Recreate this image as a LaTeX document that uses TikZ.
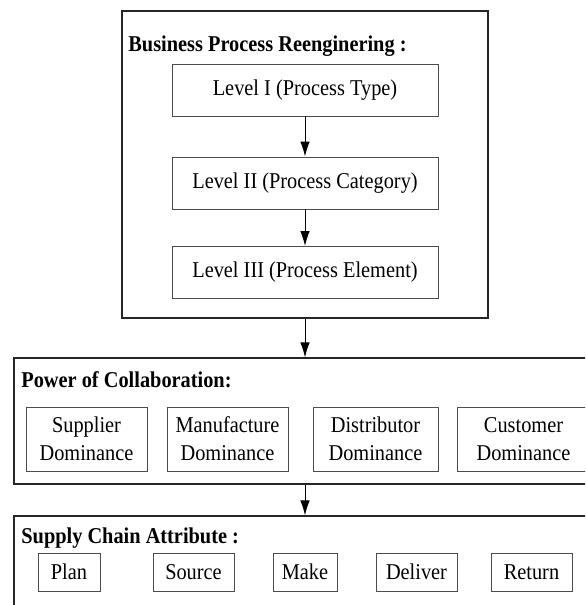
\documentclass[tikz,border=0pt]{standalone}
\usepackage{fontspec}
\setmainfont{Liberation Serif}[FakeStretch=0.9]
\usetikzlibrary{positioning,arrows.meta}

\tikzset{
  frame/.style={draw=black!85, line width=0.6pt, inner sep=0pt},
  box/.style={draw=black!70, line width=0.45pt, inner sep=0pt, align=center,
    font=\fontsize{11.3}{14}\selectfont},
  head/.style={anchor=base west, inner sep=0pt, font=\fontsize{11.3}{13}\selectfont\bfseries},
}

\begin{document}
\begin{tikzpicture}[x=0.5pt,y=-0.5pt,on grid,>={Latex[length=7.5pt,width=4.8pt]}]
\useasboundingbox (0,0) rectangle (585,605);
\clip (0,0) rectangle (585,605);

% business process reengineering
\node[frame, minimum width=183pt, minimum height=153.5pt] (bpr) at (305,164.5) {};
\node[head] (bprt) at (128,51) {Business Process Reenginering :};
\node[box, minimum width=133pt, minimum height=26pt] (l1) at (305,90) {Level I (Process Type)};
\node[box, minimum width=133pt, minimum height=26pt] (l2) [below=46.5pt of l1] {Level II (Process Category)};
\node[box, minimum width=133pt, minimum height=26pt] (l3) [below=44.75pt of l2] {Level III (Process Element)};
\path[->, line width=0.5pt]
  (l1) edge (l2)
  (l2) edge (l3);

% power of collaboration
\node[frame, minimum width=343pt, minimum height=63pt] (poc) at (357,421) {};
\node[head] (poct) at (21,387) {Power of Collaboration:};
\node[box, minimum width=60.5pt, minimum height=32pt] (sup) at (86.5,439) {Supplier\\Dominance};
\node[box, minimum width=60.5pt, minimum height=32pt] (man) at (227.5,439) {Manufacture\\Dominance};
\node[box, minimum width=62.5pt, minimum height=32pt] (dis) at (375.5,439) {Distributor\\Dominance};
\node[box, minimum width=66.5pt, minimum height=32pt] (cus) at (523.5,439) {Customer\\Dominance};

% supply chain attribute
\node[frame, minimum width=343pt, minimum height=92pt] (sca) at (357,608) {};
\node[head] (scat) at (21,543) {Supply Chain Attribute :};
\node[box, minimum width=31pt, minimum height=19pt] (plan) at (69,572) {Plan};
\node[box, minimum width=40.5pt, minimum height=19pt] (source) at (193.5,572) {Source};
\node[box, minimum width=32pt, minimum height=19pt] (make) at (305,572) {Make};
\node[box, minimum width=40.5pt, minimum height=19pt] (deliver) at (416.5,572) {Deliver};
\node[box, minimum width=40.5pt, minimum height=19pt] (return) at (531.5,572) {Return};

\draw[->, line width=0.5pt] (bpr.south) -- (bpr.south |- poc.north);
\draw[->, line width=0.5pt] (bpr.south |- poc.south) -- (bpr.south |- sca.north);
\end{tikzpicture}
\end{document}
